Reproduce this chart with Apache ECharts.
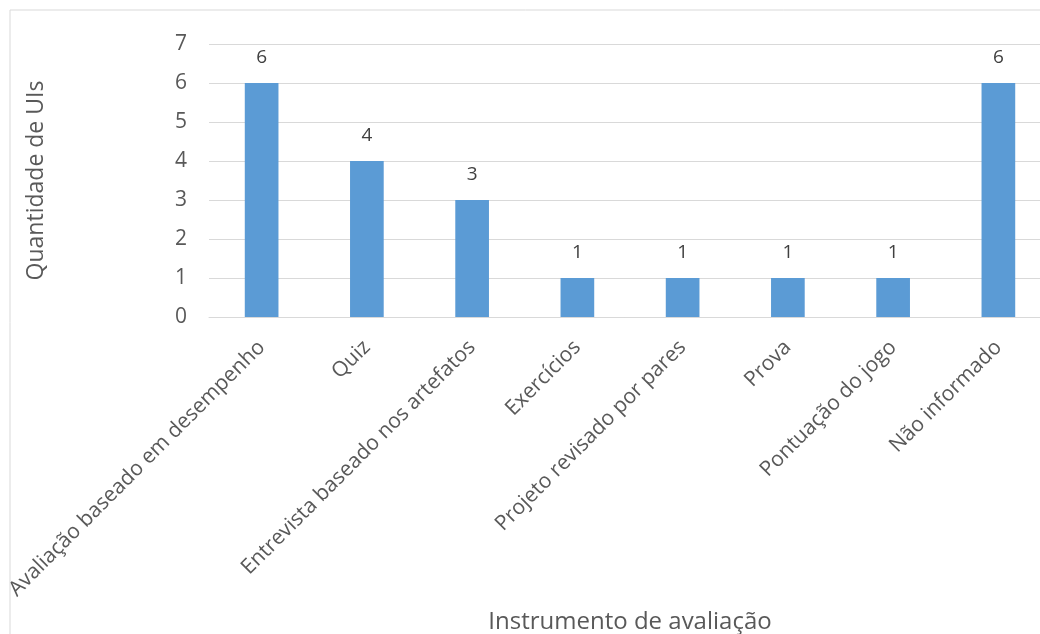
<!DOCTYPE html>
<html>
<head>
<meta charset="utf-8">
<script src="https://cdn.jsdelivr.net/npm/echarts@6/dist/echarts.min.js"></script>
<style>
  html, body { margin: 0; padding: 0; background: #fff; overflow: hidden; }
  #chart { width: 1040px; height: 634px; }
</style>
</head>
<body>
<div id="chart"></div>
<script>
// Instruments used to evaluate the UIs and how many UIs use each one
const categories = [
  'Avaliação baseado em desempenho',
  'Quiz',
  'Entrevista baseado nos artefatos',
  'Exercícios',
  'Projeto revisado por pares',
  'Prova',
  'Pontuação do jogo',
  'Não informado'
];
const counts = [6, 4, 3, 1, 1, 1, 1, 6];
const yTicks = [0, 1, 2, 3, 4, 5, 6, 7];

const font = '"Open Sans", "Noto Sans", sans-serif';
const chart = echarts.init(document.getElementById('chart'));

chart.setOption({
  backgroundColor: '#ffffff',
  animation: false,
  graphic: [{
    type: 'rect',
    shape: { x: 10, y: 10, width: 1100, height: 700 },
    style: { fill: 'none', stroke: '#d9d9d9', lineWidth: 1 },
    silent: true,
    z: -1
  }],
  // plot area runs a little past the right edge of the canvas
  grid: { left: 209, width: 842, top: 44, bottom: 317, outerBoundsMode: 'none', containLabel: false },
  xAxis: {
    type: 'category',
    data: categories,
    name: 'Instrumento de avaliação',
    nameLocation: 'middle',
    nameGap: 293,
    nameTextStyle: { color: '#595959', fontSize: 24, fontFamily: font },
    axisLine: { show: true, lineStyle: { color: '#d9d9d9', width: 1 } },
    axisTick: { show: false },
    axisLabel: {
      interval: 0,
      rotate: 45,
      color: '#595959',
      fontSize: 21,
      fontFamily: font,
      margin: 27
    }
  },
  yAxis: {
    type: 'value',
    min: yTicks[0],
    max: yTicks[yTicks.length - 1],
    interval: 1,
    name: 'Quantidade de UIs',
    nameLocation: 'middle',
    nameGap: 161,
    nameRotate: 90,
    nameTextStyle: { color: '#595959', fontSize: 23, fontFamily: font },
    axisLine: { show: false },
    axisTick: { show: false },
    axisLabel: { color: '#595959', fontSize: 21, fontFamily: font, margin: 22 },
    splitLine: { lineStyle: { color: '#d9d9d9', width: 1 } }
  },
  series: [{
    type: 'bar',
    data: counts,
    barWidth: '32%',
    itemStyle: { color: '#5b9bd5' },
    label: {
      show: true,
      position: 'top',
      distance: 16,
      color: '#404040',
      fontSize: 19,
      fontFamily: font
    }
  }]
});
</script>
</body>
</html>
